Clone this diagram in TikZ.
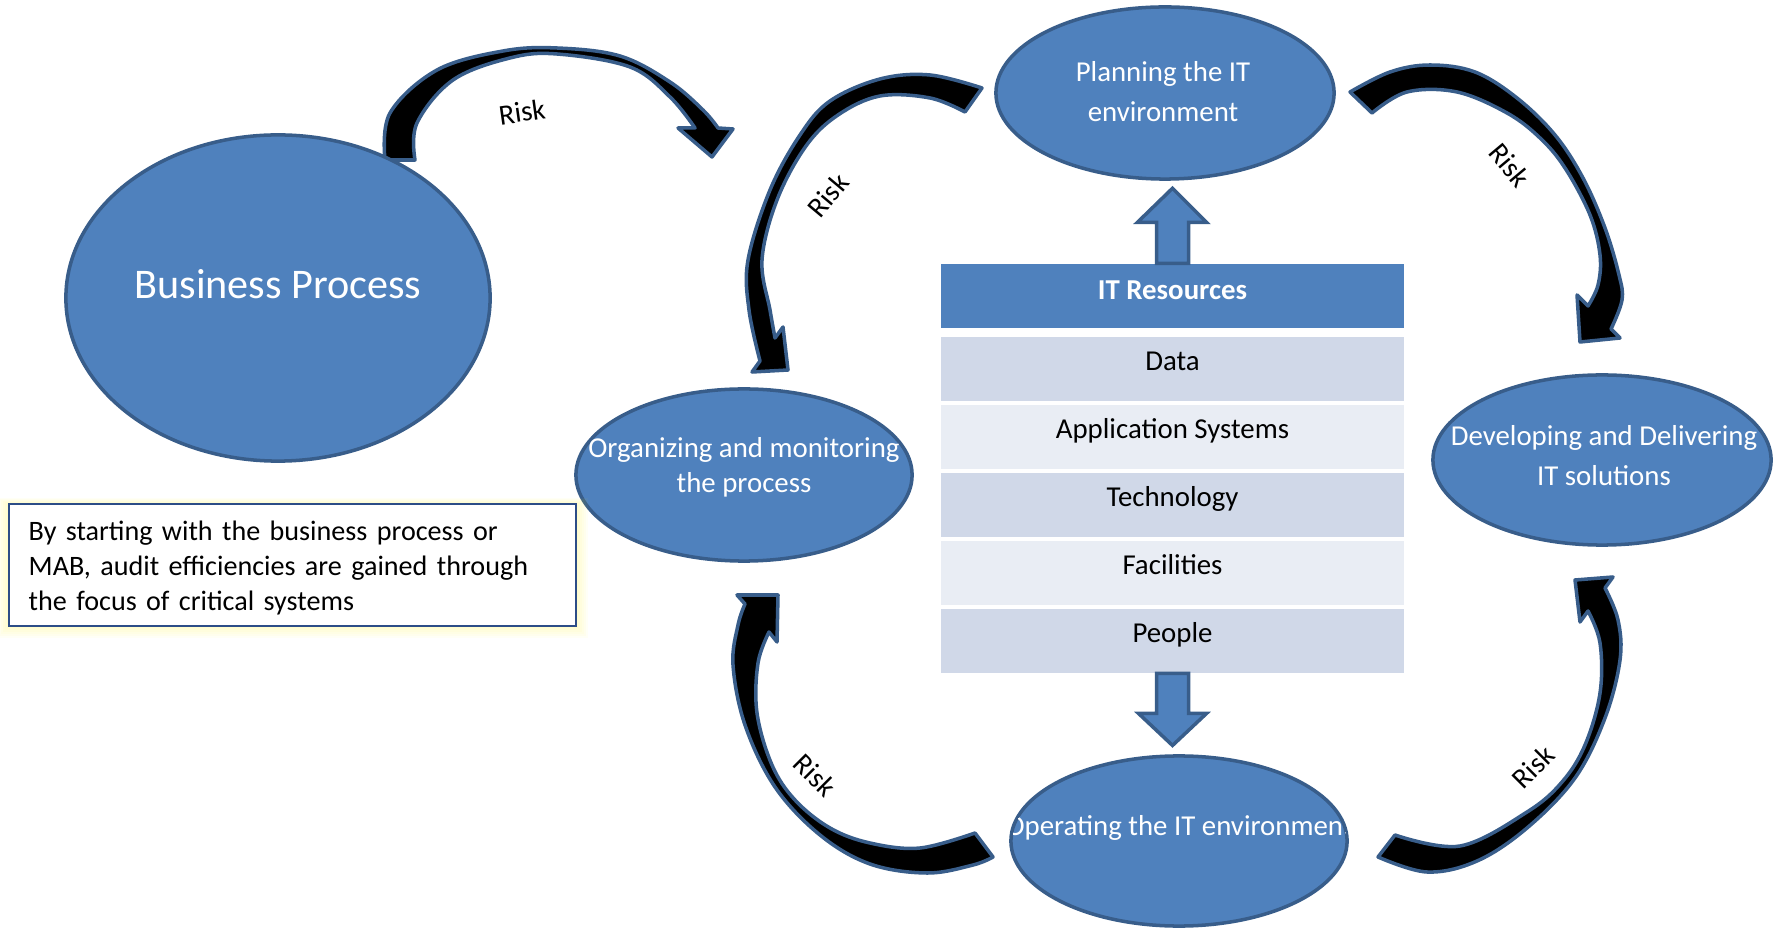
\documentclass[tikz,border=0pt]{standalone}
\usepackage{fontspec}
\setmainfont{Carlito}
\usetikzlibrary{
	shapes.geometric,   %椭圆
	positioning,        %相对定位
	calc                %坐标计算
}
\definecolor{eblue}{HTML}{4F81BD}
\definecolor{ebord}{HTML}{385D8A}
\definecolor{rowdark}{HTML}{D0D8E8}
\definecolor{rowlight}{HTML}{E9EDF4}
\definecolor{noteblue}{HTML}{2C4D87}
\tikzset{
	every picture/.style={
		>=latex,
		node distance=0.3mm and 0.3mm
}}
\tikzset{
	proc/.style={ellipse, draw=ebord, fill=eblue, line width=1pt, inner sep=0pt},
	ptext/.style={text=white, align=center, inner sep=0pt, font=\fontsize{8.2}{11.4}\selectfont},
	cell/.style={rectangle, minimum width=4.63cm, minimum height=0.635cm, inner sep=0pt,
		text height=2.3mm, text depth=2.0mm, font=\fontsize{8.2}{10}\selectfont},
	riskarrow/.style={fill=black, draw=ebord, line width=1pt, line join=round},
	blockarrow/.style={fill=eblue, draw=ebord, line width=1pt},
	risk/.style={inner sep=1pt, font=\fontsize{8.2}{10}\selectfont},
	notetext/.style={align=left, text width=5.45cm, inner xsep=0.19cm, inner ysep=0.16cm,
		font=\fontsize{8}{10}\selectfont},
	notebox/.style={draw=noteblue, line width=0.6pt, fill=white}
}

\begin{document}
\begin{tikzpicture}[x=0.01cm, y=-0.01cm]
\useasboundingbox (0,0) rectangle (1779,928);

%风险弧形箭头:外沿 -- 箭头 -- 内沿
\filldraw[riskarrow] plot[smooth, tension=0.6] coordinates {(385,160) (390,113) (437,70) (503,51) (557,48) (620,56) (670,82) (703,110) (718,128)}
	-- (733,129) -- (712,157) -- (678,128)
	-- plot[smooth, tension=0.6] coordinates {(695,128) (670,97) (630,67) (557,54) (510,58) (453,80) (417,123) (415,160)} -- cycle;
\filldraw[riskarrow] plot[smooth, tension=0.6] coordinates {(982,88) (930,75) (880,79) (830,101) (800,135) (770,190) (748,260) (749,310) (760,361)}
	-- (752,372) -- (788,370) -- (783,327)
	-- plot[smooth, tension=0.6] coordinates {(775,338) (770,310) (762,260) (777,200) (806,146) (838,115) (880,96) (930,98) (965,112)} -- cycle;
\filldraw[riskarrow] plot[smooth, tension=0.6] coordinates {(1350,92) (1390,72) (1430,65) (1475,72) (1517,98) (1555,135) (1583,178) (1605,228) (1619,275) (1622,300) (1611,329)}
	-- (1620,338) -- (1580,342) -- (1577,295)
	-- plot[smooth, tension=0.6] coordinates {(1588,306) (1598,285) (1600,255) (1590,215) (1565,168) (1540,138) (1507,113) (1457,92) (1407,92) (1372,113)} -- cycle;
\filldraw[riskarrow] plot[smooth, tension=0.6] coordinates {(993,857) (973,865) (927,873) (870,864) (820,835) (775,787) (745,725) (733,665) (738,625) (745,604)}
	-- (737,595) -- (778,595) -- (777,642)
	-- plot[smooth, tension=0.6] coordinates {(769,632) (758,663) (757,713) (772,765) (795,800) (830,828) (870,843) (920,848) (975,833)} -- cycle;
\filldraw[riskarrow] plot[smooth, tension=0.6] coordinates {(1378,857) (1427,872) (1477,861) (1527,828) (1575,778) (1605,718) (1620,660) (1618,620) (1605,588)}
	-- (1613,577) -- (1575,580) -- (1580,622)
	-- plot[smooth, tension=0.6] coordinates {(1588,611) (1600,643) (1600,693) (1585,745) (1562,782) (1527,812) (1460,846) (1395,835)} -- cycle;

\node[risk, rotate=8] (risk-bp) at (522,112) {Risk};
\node[risk, rotate=50] (risk-org) at (828,195) {Risk};
\node[risk, rotate=-50] (risk-dev) at (1510,165) {Risk};
\node[risk, rotate=-45] (risk-op) at (815,775) {Risk};
\node[risk, rotate=45] (risk-sol) at (1533,767) {Risk};

%四个环节和业务流程
\node[proc, minimum width=4.24cm, minimum height=3.26cm] (bp) at (278,298) {};
\node[text=white, inner sep=0pt, font=\fontsize{12}{14}\selectfont] (bp-t) at (278,284) {Business Process};
\node[proc, minimum width=3.38cm, minimum height=1.72cm] (plan) at (1165,93) {};
\node[ptext] (plan-t) at (1163,92) {Planning the IT\\environment};
\node[proc, minimum width=3.36cm, minimum height=1.72cm] (org) at (744,475) {};
\node[ptext, font=\fontsize{8.2}{10}\selectfont] (org-t) at (744,467) {Organizing and monitoring\\the process};
\node[proc, minimum width=3.38cm, minimum height=1.70cm] (dev) at (1602,460) {};
\node[ptext] (dev-t) at (1604,456) {Developing and Delivering\\IT solutions};
\node[proc, minimum width=3.36cm, minimum height=1.70cm] (oper) at (1179,841) {};
%文字超出椭圆,裁掉
\begin{scope}
\clip (oper.center) ellipse [x radius=1.67cm, y radius=0.84cm];
\node[ptext] (oper-t) at (1179,828) {Operating the IT environment};
\end{scope}

%IT资源表
\node[cell, fill=eblue, text=white, font=\fontsize{8.2}{10}\selectfont\bfseries, minimum height=0.64cm,
	text height=2.5mm, text depth=1.8mm] (hdr) at (1172.5,296) {IT Resources};
\node[cell, fill=rowdark, below=0.8mm of hdr] (data) {Data};
\node[cell, fill=rowlight, below=of data] (apps) {Application Systems};
\node[cell, fill=rowdark, below=of apps] (tech) {Technology};
\node[cell, fill=rowlight, below=of tech] (fac) {Facilities};
\node[cell, fill=rowdark, below=of fac] (people) {People};

%上下两个块箭头
\draw[blockarrow, shift={(hdr.north)}] (-16,0) -- (-16,-41) -- (-35,-41) -- (0,-75) -- (34,-41) -- (16,-41) -- (16,0) -- cycle;
\draw[blockarrow, shift={(people.south)}] (-16,0) -- (-16,40) -- (-34,40) -- (0,72) -- (34,40) -- (16,40) -- (16,0) -- cycle;

%说明框,下方带一点黄色光晕
\foreach \g in {2,4,...,12}
	\fill[yellow, opacity=0.035] (9-\g,504-\g/2) rectangle (576+\g,626+\g);
\draw[notebox] (9,504) rectangle (576,626);
\node[notetext, anchor=north west] (note) at (9,504) {By starting with the business process or\\MAB, audit efficiencies are gained through\\the focus of critical systems};
\end{tikzpicture}
\end{document}
